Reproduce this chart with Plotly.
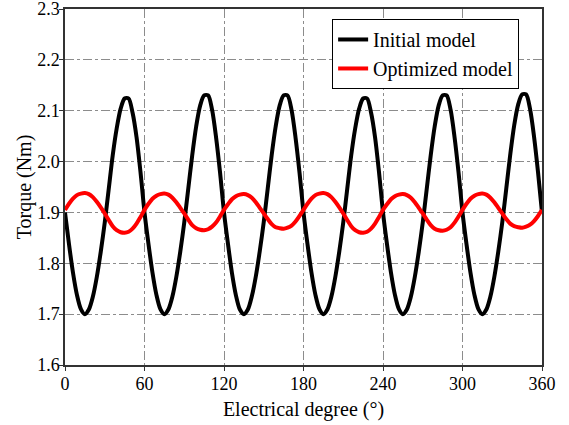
import plotly.graph_objects as go

# Electrical degree sample positions (every 3 degrees, 0..360)
degrees = list(range(0, 361, 3))

# Torque of the initial model (Nm)
initial_model = [
    1.900, 1.838, 1.782, 1.738, 1.710, 1.700, 1.709, 1.734, 1.773, 1.823, 1.880, 1.946, 2.012, 2.065, 2.104, 2.124, 2.124, 2.096, 2.048, 1.979,
    1.900, 1.838, 1.782, 1.738, 1.710, 1.700, 1.709, 1.734, 1.773, 1.823, 1.880, 1.946, 2.012, 2.069, 2.110, 2.130, 2.130, 2.102, 2.048, 1.979,
    1.900, 1.838, 1.781, 1.737, 1.709, 1.700, 1.709, 1.735, 1.774, 1.824, 1.881, 1.947, 2.013, 2.069, 2.110, 2.130, 2.130, 2.101, 2.047, 1.978,
    1.900, 1.838, 1.782, 1.738, 1.710, 1.700, 1.709, 1.734, 1.773, 1.823, 1.880, 1.946, 2.012, 2.065, 2.104, 2.124, 2.124, 2.096, 2.048, 1.979,
    1.900, 1.838, 1.782, 1.738, 1.710, 1.700, 1.709, 1.734, 1.773, 1.823, 1.880, 1.946, 2.012, 2.069, 2.110, 2.130, 2.130, 2.102, 2.048, 1.979,
    1.900, 1.838, 1.782, 1.738, 1.710, 1.700, 1.709, 1.734, 1.773, 1.823, 1.880, 1.946, 2.013, 2.071, 2.112, 2.132, 2.132, 2.103, 2.049, 1.979,
    1.900,
]

# Torque of the optimized model (Nm)
optimized_model = [
    1.905, 1.917, 1.927, 1.934, 1.937, 1.938, 1.936, 1.930, 1.921, 1.910, 1.898, 1.885, 1.873, 1.865, 1.861, 1.860, 1.862, 1.868, 1.878, 1.891,
    1.905, 1.917, 1.927, 1.933, 1.936, 1.937, 1.935, 1.929, 1.920, 1.909, 1.898, 1.886, 1.875, 1.869, 1.866, 1.865, 1.867, 1.872, 1.880, 1.892,
    1.905, 1.916, 1.926, 1.932, 1.935, 1.936, 1.934, 1.929, 1.920, 1.909, 1.898, 1.887, 1.877, 1.871, 1.869, 1.868, 1.870, 1.874, 1.882, 1.893,
    1.905, 1.917, 1.927, 1.934, 1.937, 1.938, 1.936, 1.930, 1.921, 1.910, 1.898, 1.885, 1.873, 1.865, 1.861, 1.860, 1.862, 1.868, 1.878, 1.891,
    1.905, 1.916, 1.926, 1.932, 1.935, 1.936, 1.934, 1.929, 1.920, 1.909, 1.898, 1.886, 1.875, 1.868, 1.865, 1.864, 1.866, 1.871, 1.880, 1.892,
    1.905, 1.917, 1.927, 1.933, 1.936, 1.937, 1.935, 1.929, 1.920, 1.909, 1.898, 1.887, 1.878, 1.873, 1.871, 1.870, 1.872, 1.876, 1.883, 1.893,
    1.905,
]

x_ticks = [0, 60, 120, 180, 240, 300, 360]
y_ticks = [1.6, 1.7, 1.8, 1.9, 2.0, 2.1, 2.2, 2.3]
y_tick_labels = ["1.6", "1.7", "1.8", "1.9", "2.0", "2.1", "2.2", "2.3"]

FONT = "Liberation Serif"

fig = go.Figure()
fig.add_trace(go.Scatter(
    x=degrees, y=initial_model, mode="lines", name="Initial model",
    line=dict(color="black", width=4, shape="spline", smoothing=0.8),
))
fig.add_trace(go.Scatter(
    x=degrees, y=optimized_model, mode="lines", name="Optimized model",
    line=dict(color="#ff0000", width=4, shape="spline", smoothing=0.8),
))

axis_common = dict(
    showline=True, linecolor="#333333", linewidth=1.5, mirror=True,
    showgrid=True, gridcolor="#8c8c8c", gridwidth=1, griddash="dashdot",
    ticks="outside", ticklen=4, tickcolor="#333333", tickwidth=1,
    zeroline=False, automargin=False, ticklabeloverflow="allow",
    tickfont=dict(family=FONT, size=18, color="black"),
)

fig.update_xaxes(
    range=[0, 360], tickvals=x_ticks, ticklabelstandoff=-2,
    title=dict(text="Electrical degree (°)", font=dict(family=FONT, size=20, color="black"), standoff=9),
    **axis_common,
)
fig.update_yaxes(
    range=[1.6, 2.3], tickvals=y_ticks, ticktext=y_tick_labels, ticklabelstandoff=-4,
    title=dict(text="Torque (Nm)", font=dict(family=FONT, size=20, color="black"), standoff=0),
    **axis_common,
)

fig.update_layout(
    width=569, height=425,
    margin=dict(l=65, r=27, t=9, b=60),
    paper_bgcolor="white", plot_bgcolor="white",
    font=dict(family=FONT, size=20, color="black"),
    legend=dict(
        x=0.56, y=0.972, xanchor="left", yanchor="top",
        bgcolor="white", bordercolor="black", borderwidth=1,
        font=dict(family=FONT, size=20, color="black"),
        tracegroupgap=0,
    ),
    showlegend=True,
)

fig.write_html("out.html", post_script="document.body.style.margin='0';",
               config={"displayModeBar": False})
